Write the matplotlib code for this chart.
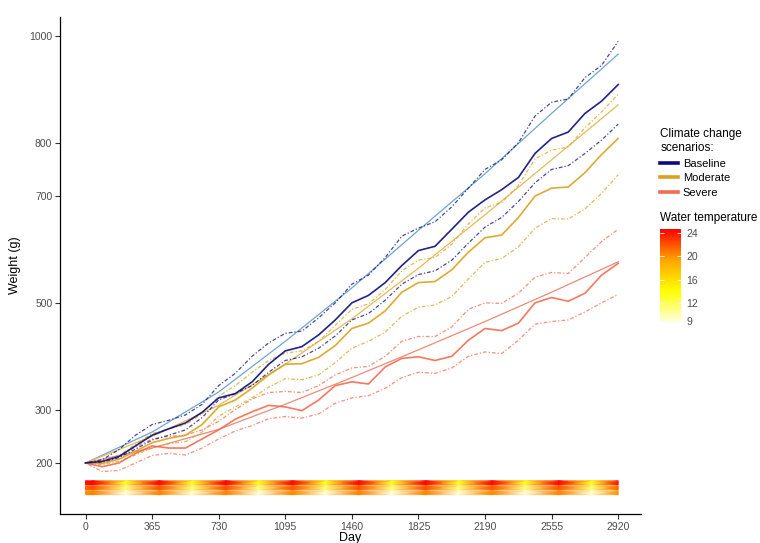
import matplotlib
matplotlib.use('Agg')
import matplotlib.pyplot as plt
from matplotlib.lines import Line2D
from matplotlib.colors import LinearSegmentedColormap, Normalize
from matplotlib.cm import ScalarMappable
import numpy as np

plt.rcParams['font.family'] = ['Liberation Sans', 'DejaVu Sans']

# growth curves, read every quarter of a year
days = [0, 91, 183, 274, 365, 456, 548, 639, 730, 821, 913, 1004, 1095, 1186, 1278, 1369,
        1460, 1551, 1643, 1734, 1825, 1916, 2008, 2099, 2190, 2281, 2373, 2464, 2555, 2646,
        2738, 2829, 2920]

base_mid = [200, 203, 212, 232, 252, 264, 275, 295, 322, 330, 352, 385, 410, 418, 440, 468, 500,
            514, 538, 570, 598, 606, 638, 670, 693, 712, 735, 780, 808, 820, 855, 878, 909]
base_hi = [200, 206, 225, 252, 272, 280, 290, 310, 345, 368, 400, 425, 443, 447, 472, 500, 535,
           552, 585, 625, 640, 652, 680, 715, 750, 768, 800, 850, 876, 882, 922, 945, 990]
base_lo = [200, 201, 210, 226, 243, 252, 262, 285, 318, 330, 345, 370, 392, 399, 415, 438, 468,
           480, 505, 535, 553, 560, 580, 612, 642, 660, 690, 725, 750, 757, 780, 805, 835]

mod_mid = [200, 199, 207, 222, 238, 246, 252, 272, 305, 318, 340, 365, 385, 386, 398, 420, 452,
           462, 485, 520, 538, 540, 562, 595, 622, 627, 660, 700, 715, 717, 744, 778, 808]
mod_hi = [200, 202, 214, 235, 255, 264, 272, 292, 325, 345, 370, 392, 406, 410, 428, 458, 488,
          498, 525, 560, 580, 585, 610, 648, 678, 688, 720, 770, 786, 792, 828, 858, 891]
mod_lo = [200, 197, 203, 215, 228, 236, 240, 258, 288, 305, 322, 342, 358, 356, 365, 388, 415,
          428, 445, 475, 492, 496, 512, 545, 576, 583, 605, 640, 658, 657, 676, 705, 740]

sev_mid = [200, 193, 200, 218, 232, 228, 228, 245, 262, 282, 296, 308, 305, 298, 318, 345, 352,
           348, 380, 396, 399, 392, 400, 430, 452, 448, 462, 500, 510, 503, 518, 552, 574]
sev_hi = [200, 200, 212, 230, 245, 250, 252, 262, 278, 300, 320, 332, 334, 332, 345, 365, 378,
          381, 400, 428, 437, 437, 455, 488, 500, 499, 518, 548, 557, 555, 585, 615, 638]
sev_lo = [200, 184, 186, 200, 214, 218, 215, 228, 245, 260, 270, 283, 287, 284, 292, 312, 322,
          326, 340, 360, 370, 368, 378, 400, 408, 405, 430, 460, 465, 468, 483, 500, 516]

# fitted trends, one point per year
trend_days = [0, 365, 730, 1095, 1460, 1825, 2190, 2555, 2920]
base_trend = [200, 258, 333, 428, 528, 636, 742, 855, 966]
mod_trend = [200, 250, 308, 385, 470, 565, 665, 768, 871]
sev_trend = [200, 228, 263, 310, 360, 412, 465, 520, 577]

# water temperature, peaks and troughs of each season
temp_days = [0, 38, 218, 403, 583, 768, 948, 1133, 1313, 1498, 1678, 1863, 2043, 2228, 2408,
             2593, 2773, 2920]
sev_temp = [24.0, 24.6, 13.2, 24.5, 13.3, 24.6, 13.2, 24.4, 13.4, 24.5, 13.2, 24.6, 13.3, 24.4,
            13.2, 24.5, 13.4, 24.0]
mod_temp = [21.5, 22.0, 11.0, 22.0, 11.2, 22.1, 11.0, 21.9, 11.2, 22.0, 11.0, 22.1, 11.1, 21.9,
            11.0, 22.0, 11.2, 21.5]
base_temp = [20.0, 20.5, 9.0, 20.4, 9.2, 20.5, 9.0, 20.3, 9.1, 20.5, 9.0, 20.4, 9.1, 20.3, 9.0,
             20.4, 9.2, 20.0]
strip_rows = [163, 153.7, 144.3]

x_ticks = [0, 365, 730, 1095, 1460, 1825, 2190, 2555, 2920]
y_ticks = [200, 300, 500, 700, 800, 1000]
temp_ticks = [9, 12, 16, 20, 24]

c_base, c_mod, c_sev = '#0a0a7e', '#d9a21c', '#f26a4f'
dotdash = (0, (1, 1.6, 3, 1.6))

fig = plt.figure(figsize=(7.6, 5.43), dpi=100)
ax = fig.add_axes([60/760, 1 - 514/543, 581/760, 497/543])

# temperature strips
cmap = LinearSegmentedColormap.from_list('wt', ['#ffffe0', '#ffff00', '#ffa500', '#ff0000'])
norm = Normalize(vmin=8.7, vmax=24.7)
for row, vals in zip(strip_rows, [sev_temp, mod_temp, base_temp]):
    X = np.array([temp_days, temp_days])
    Y = np.array([[row - 3.6]*len(temp_days), [row + 3.6]*len(temp_days)])
    C = np.array([vals, vals])
    ax.pcolormesh(X, Y, C, cmap=cmap, norm=norm, shading='gouraud', zorder=1)

# trends
ax.plot(trend_days, base_trend, color='#6ea6d0', lw=0.9, zorder=3)
ax.plot(trend_days, mod_trend, color='#e6bb55', lw=0.9, zorder=3)
ax.plot(trend_days, sev_trend, color='#ee8a78', lw=0.9, zorder=3)

# scenarios
for mid, hi, lo, col in [(sev_mid, sev_hi, sev_lo, c_sev), (mod_mid, mod_hi, mod_lo, c_mod),
                         (base_mid, base_hi, base_lo, c_base)]:
    ax.plot(days, hi, color=col, lw=0.9, ls=dotdash, alpha=0.75, zorder=4)
    ax.plot(days, lo, color=col, lw=0.9, ls=dotdash, alpha=0.75, zorder=4)
    ax.plot(days, mid, color=col, lw=1.2, alpha=0.9, zorder=5)

ax.set_xlim(-140, 3045)
ax.set_ylim(104.4, 1035.6)
ax.set_xticks(x_ticks)
ax.set_yticks(y_ticks)
for s in ['top', 'right']:
    ax.spines[s].set_visible(False)
for s in ['left', 'bottom']:
    ax.spines[s].set_linewidth(0.9)
    ax.spines[s].set_color('black')
ax.tick_params(direction='out', length=3.5, width=0.8, colors='#333333',
               labelcolor='#4d4d4d', labelsize=7.5, pad=2)
ax.set_xlabel('Day', fontsize=9, labelpad=0)
ax.set_ylabel('Weight (g)', fontsize=9, labelpad=6)

handles = [Line2D([], [], color=c, lw=2.6) for c in [c_base, c_mod, c_sev]]
leg = ax.legend(handles, ['Baseline', 'Moderate', 'Severe'], title='Climate change\nscenarios:',
                loc='upper left', bbox_to_anchor=(656/760, 1 - 124/543),
                bbox_transform=fig.transFigure, frameon=False, fontsize=8,
                title_fontsize=8.5, handlelength=1.6, handletextpad=0.4, labelspacing=0.4,
                alignment='left', borderaxespad=0)

fig.text(660/760, 1 - 218/543, 'Water temperature', fontsize=8.5, va='center', ha='left')
cax = fig.add_axes([660/760, 1 - 322.3/543, 21/760, 93.3/543])
cb = fig.colorbar(ScalarMappable(norm=norm, cmap=cmap), cax=cax, ticks=temp_ticks)
cb.outline.set_visible(False)
cax.yaxis.set_ticks_position('both')
cax.tick_params(length=3, width=0.6, color='white', direction='in', labelsize=7.5,
                labelcolor='#4d4d4d', pad=4, labelleft=False, labelright=True)

fig.savefig('out.png', dpi=100)
